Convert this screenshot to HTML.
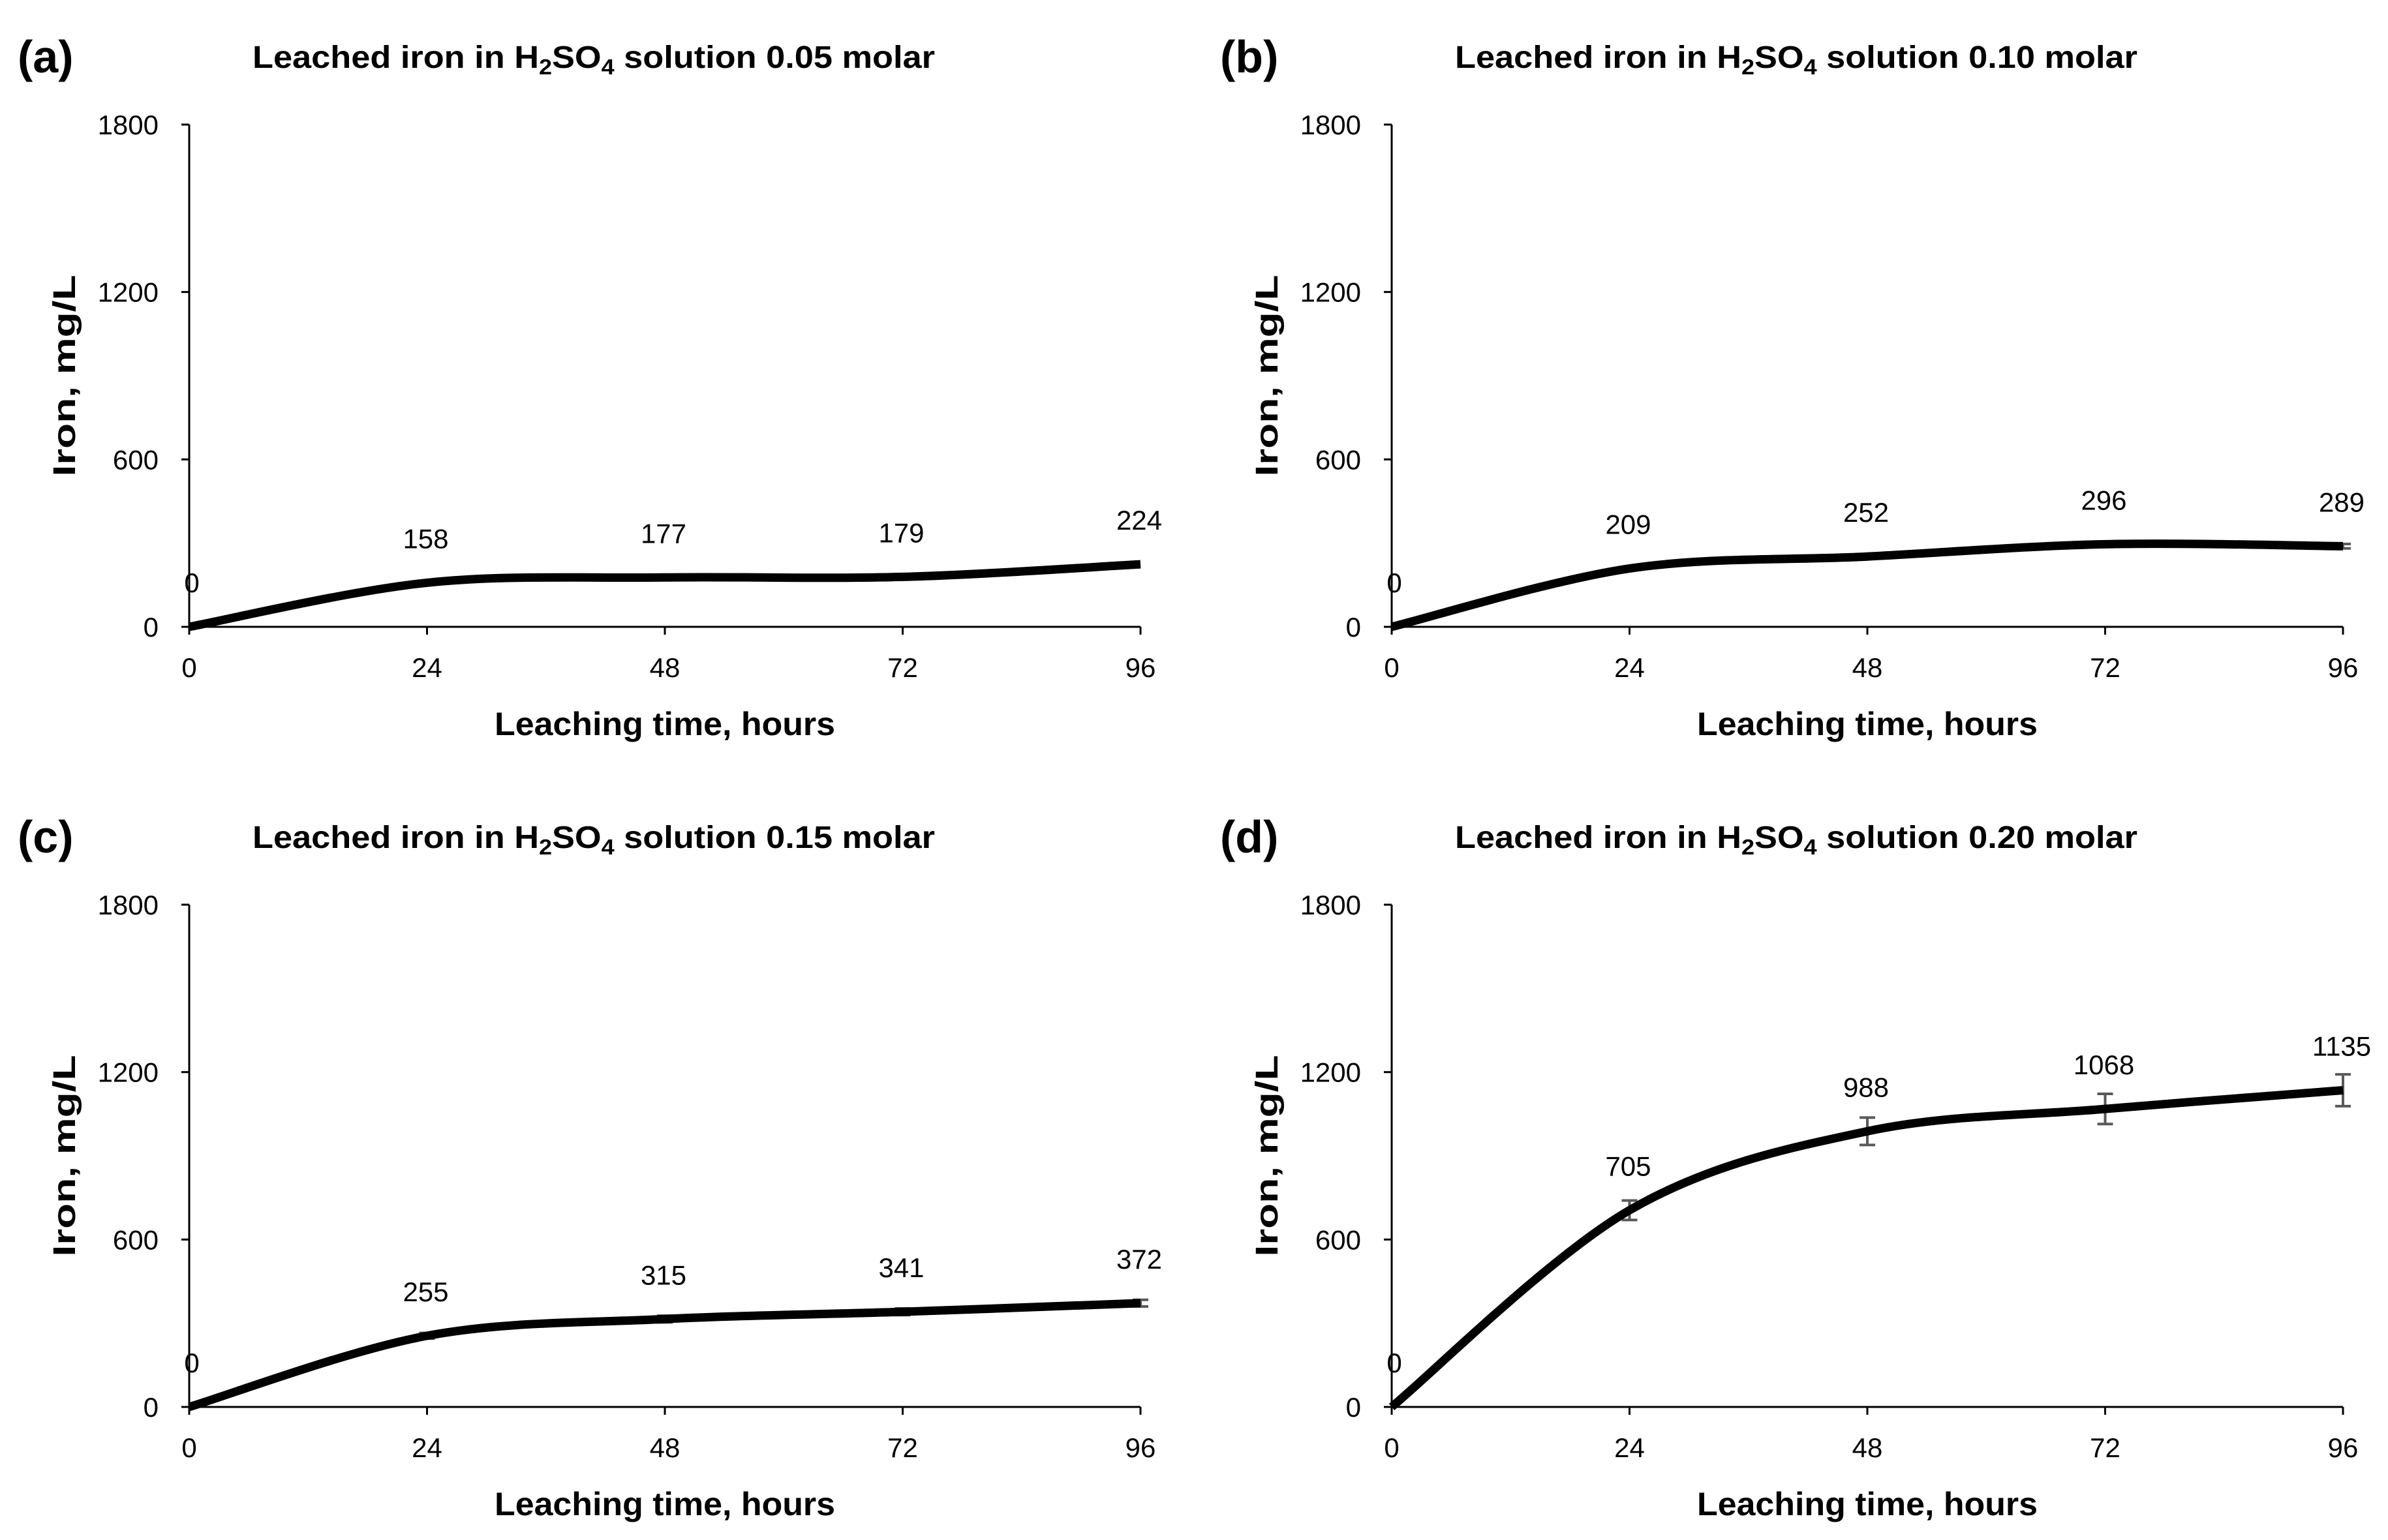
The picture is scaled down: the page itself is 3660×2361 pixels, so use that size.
<!DOCTYPE html>
<html><head><meta charset="utf-8"><style>
html,body{margin:0;padding:0;background:#fff;}
svg{display:block;font-family:"Liberation Sans",sans-serif;}
</style></head><body>
<svg id="fig" width="3660" height="2361" viewBox="0 0 3660 2361"></svg>
<script>
const hours = [0, 24, 48, 72, 96];
const xTicks = [0, 24, 48, 72, 96];
const yTicks = [0, 600, 1200, 1800];
const panelLetters = ["(a)", "(b)", "(c)", "(d)"];
const molarities = ["0.05", "0.10", "0.15", "0.20"];
const ironA = [0, 158, 177, 179, 224];
const ironB = [0, 209, 252, 296, 289];
const ironC = [0, 255, 315, 341, 372];
const ironD = [0, 705, 988, 1068, 1135];
const errA = [0, 0, 0, 0, 0];
const errB = [0, 0, 0, 8, 8];
const errC = [0, 10, 12, 12, 12];
const errD = [0, 35, 49, 54, 57];
const series = [ironA, ironB, ironC, ironD];
const errors = [errA, errB, errC, errD];

const NS = "http://www.w3.org/2000/svg";
const svg = document.getElementById("fig");
function mk(tag, attrs, parent, text) {
  const e = document.createElementNS(NS, tag);
  for (const k in attrs) e.setAttribute(k, attrs[k]);
  if (text !== undefined) e.textContent = text;
  (parent || svg).appendChild(e);
  return e;
}
const offsets = [[0,0],[1843,0],[0,1196],[1843,1196]];
for (let p = 0; p < 4; p++) {
  const ox = offsets[p][0], oy = offsets[p][1];
  const L = 290 + ox, R = 1748 + ox, T = 191 + oy, B = 961 + oy;
  const xS = v => L + (v - 0) / 96 * (R - L);
  const yS = v => B - v / 1800 * (B - T);
  const g = mk("g", {});
  
  

  const lt = mk("text", {x: 27 + ox, y: 111 + oy, "font-size": 70, "font-weight": "bold"}, g, panelLetters[p]);
  
  

  const ti = mk("text", {x: 910 + ox, y: 104 + oy, "font-size": 48, "font-weight": "bold", "text-anchor": "middle", textLength: 1046, lengthAdjust: "spacingAndGlyphs"}, g);
  
  
  ti.appendChild(document.createTextNode("Leached iron in H"));
  mk("tspan", {"font-size": 33, dy: 10}, ti, "2");
  mk("tspan", {dy: -10}, ti, "SO");
  mk("tspan", {"font-size": 33, dy: 10}, ti, "4");
  mk("tspan", {dy: -10}, ti, " solution " + molarities[p] + " molar");

  const ya = mk("line", {x1: L, y1: T, x2: L, y2: B, stroke: "#000", "stroke-width": 3}, g);
  
  
  const xa = mk("line", {x1: L - 12, y1: B, x2: R, y2: B, stroke: "#000", "stroke-width": 3}, g);
  
  
  yTicks.forEach(v => {
    mk("line", {x1: L - 12, y1: yS(v), x2: L, y2: yS(v), stroke: "#000", "stroke-width": 3}, g);
    const t = mk("text", {x: L - 47, y: yS(v) + 15, "font-size": 42, "text-anchor": "end"}, g, String(v));
    
    
  });
  xTicks.forEach(v => {
    mk("line", {x1: xS(v), y1: B, x2: xS(v), y2: B + 12, stroke: "#000", "stroke-width": 3}, g);
    const t = mk("text", {x: xS(v), y: B + 77, "font-size": 42, "text-anchor": "middle"}, g, String(v));
    
    
  });
  const xt = mk("text", {x: 1019 + ox, y: 1127 + oy, "font-size": 50, "font-weight": "bold", "text-anchor": "middle", textLength: 522, lengthAdjust: "spacingAndGlyphs"}, g, "Leaching time, hours");
  
  
  const yt = mk("text", {x: 0, y: 0, "font-size": 48, "font-weight": "bold", "text-anchor": "middle", textLength: 309, lengthAdjust: "spacingAndGlyphs", transform: `translate(${115 + ox},${(T + B) / 2}) rotate(-90)`}, g, "Iron, mg/L");
  
  

  const data = series[p], err = errors[p];
  hours.forEach((h, i) => {
    if (err[i] <= 0) return;
    const x = xS(h), y1 = yS(data[i] - err[i]), y2 = yS(data[i] + err[i]);
    const eb = mk("path", {d: `M${x},${y1}V${y2}M${x - 12},${y1}H${x + 12}M${x - 12},${y2}H${x + 12}`, stroke: "#595959", "stroke-width": 4, fill: "none"}, g);
    
    
  });
  const pts = hours.map((h, i) => [xS(h), yS(data[i])]);
  let d = `M${pts[0][0]},${pts[0][1]}`;
  for (let i = 0; i < pts.length - 1; i++) {
    const p0 = pts[Math.max(0, i - 1)], p1 = pts[i], p2 = pts[i + 1], p3 = pts[Math.min(pts.length - 1, i + 2)];
    const c1 = [p1[0] + (p2[0] - p0[0]) / 6, p1[1] + (p2[1] - p0[1]) / 6];
    const c2 = [p2[0] - (p3[0] - p1[0]) / 6, p2[1] - (p3[1] - p1[1]) / 6];
    d += ` C${c1[0]},${c1[1]} ${c2[0]},${c2[1]} ${p2[0]},${p2[1]}`;
  }
  const ln = mk("path", {d: d, stroke: "#000", "stroke-width": 13, fill: "none", "stroke-linejoin": "round"}, g);
  
  
  hours.forEach((h, i) => {
    const lx = i === 0 ? xS(h) + 4 : xS(h) - 2;
    const t = mk("text", {x: lx, y: yS(data[i]) - 53, "font-size": 42, "text-anchor": "middle"}, g, String(data[i]));
    
    
  });
}
</script>
</body></html>
